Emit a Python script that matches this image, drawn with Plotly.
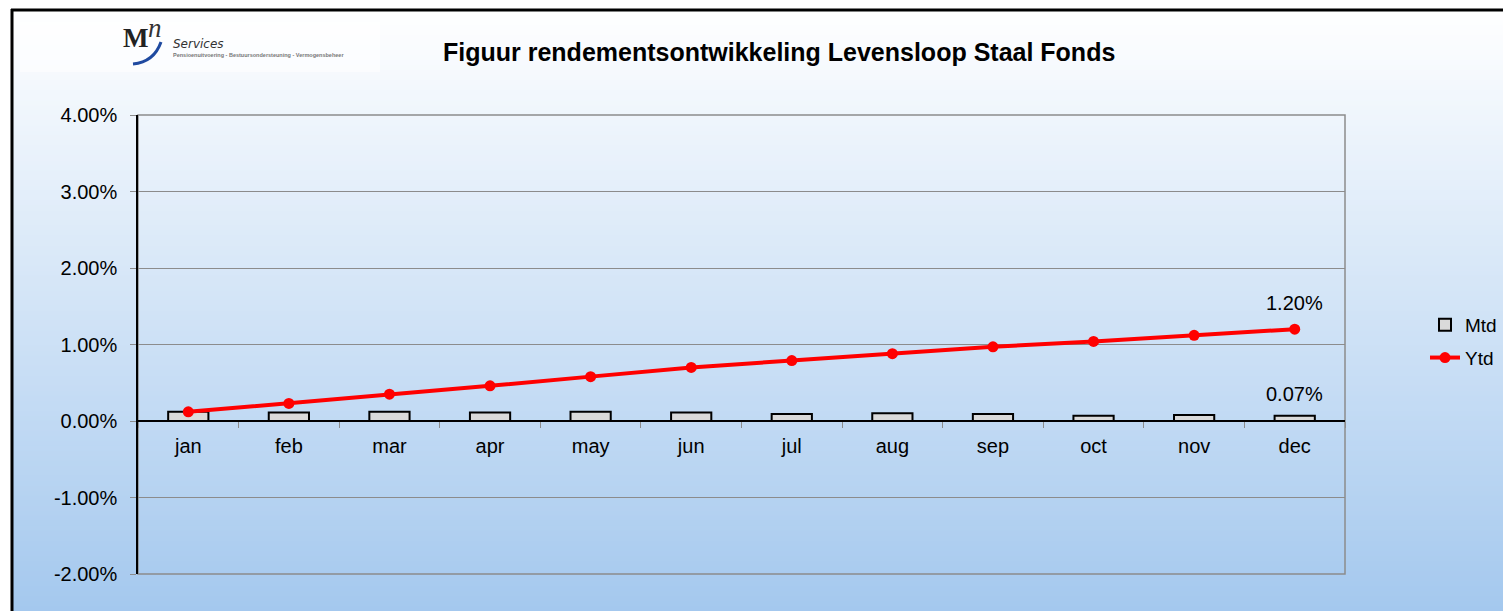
import plotly.graph_objects as go

months = ["jan", "feb", "mar", "apr", "may", "jun", "jul", "aug", "sep", "oct", "nov", "dec"]
mtd = [0.12, 0.11, 0.12, 0.11, 0.12, 0.11, 0.09, 0.10, 0.09, 0.07, 0.08, 0.07]
ytd = [0.12, 0.23, 0.35, 0.46, 0.58, 0.70, 0.79, 0.88, 0.97, 1.04, 1.12, 1.20]
y_ticks = [4, 3, 2, 1, 0, -1, -2]

OFF = 8  # page body margin
PAGE_W, PAGE_H = 1511, 611
W, H = PAGE_W, PAGE_H - OFF
PL, PR, PT, PB = 138, 1345, 115, 574  # plot area in page pixels
L, T = PL - OFF, PT - OFF
R, B = OFF + W - PR, PAGE_H - PB
PW, PH = PR - PL, PB - PT

def px(x):
    return (x - PL) / PW

def py(y):
    return (PB - y) / PH

FONT = "Arial, Liberation Sans, Helvetica, sans-serif"

fig = go.Figure()
fig.add_trace(go.Bar(
    x=months, y=mtd, name="Mtd", width=0.4, legendgroup="a",
    marker=dict(color="#dadada", line=dict(color="black", width=2)),
))
fig.add_trace(go.Scatter(
    x=months, y=ytd, name="Ytd", mode="lines+markers", legendgroup="b",
    line=dict(color="#ff0000", width=4),
    marker=dict(color="#ff0000", size=11),
))

shapes = []
# gradient background
top_px, bot_px = 10, PAGE_H
n = 120
c0 = (255, 255, 255)
c1 = (164, 200, 238)
for i in range(n):
    a = top_px + (bot_px - top_px) * i / n
    b = top_px + (bot_px - top_px) * (i + 1) / n + 1
    t = (i + 0.5) / n
    col = "rgb(%d,%d,%d)" % tuple(round(c0[k] + (c1[k] - c0[k]) * t) for k in range(3))
    shapes.append(dict(type="rect", xref="paper", yref="paper", layer="below",
                       x0=px(12), x1=px(PAGE_W + 5), y0=py(b), y1=py(a),
                       fillcolor=col, line=dict(width=0)))
# logo box
shapes.append(dict(type="rect", xref="paper", yref="paper", layer="below",
                   x0=px(20), x1=px(380), y0=py(72), y1=py(22),
                   fillcolor="rgba(255,255,255,0.5)", line=dict(width=0)))
# plot area border (gray)
shapes.append(dict(type="rect", xref="paper", yref="paper", layer="below",
                   x0=0, x1=1, y0=0, y1=1, line=dict(color="#8c8c8c", width=1.5)))
# outer black frame
shapes.append(dict(type="line", xref="paper", yref="paper",
                   x0=px(11), x1=px(PAGE_W + 5), y0=py(10), y1=py(10),
                   line=dict(color="black", width=3)))
shapes.append(dict(type="line", xref="paper", yref="paper",
                   x0=px(12), x1=px(12), y0=py(9), y1=py(PAGE_H + 5),
                   line=dict(color="black", width=3)))
# logo swoosh
x_a, y_a = px(133), py(64)
x_b, y_b = px(161), py(42)
x_c, y_c = px(154), py(62)
shapes.append(dict(type="path", xref="paper", yref="paper",
                   path=f"M {x_a},{y_a} Q {x_c},{y_c} {x_b},{y_b}",
                   line=dict(color="#1f4aa0", width=3)))

def ann(text, x, y, size, family=FONT, color="black", xanchor="center"):
    return dict(text=text, xref="paper", yref="paper", x=px(x), y=py(y),
                xanchor=xanchor, yanchor="middle", showarrow=False,
                font=dict(family=family, size=size, color=color))

SERIF = "Liberation Serif, DejaVu Serif, serif"
annotations = [
    ann("<b>Figuur rendementsontwikkeling Levensloop Staal Fonds</b>", 779, 52, 25),
    ann("<b>M</b>", 121, 38, 27, SERIF, "#222222", "left"),
    ann("<i>n</i>", 146, 28, 27, SERIF, "#333333", "left"),
    ann("<i>Services</i>", 171, 44, 12, "DejaVu Sans, sans-serif", "#333333", "left"),
    ann("<b>Pensioenuitvoering - Bestuursondersteuning - Vermogensbeheer</b>",
        171, 55, 5.5, FONT, "#777777", "left"),
    dict(text="%.2f%%" % ytd[-1], x=months[-1], y=ytd[-1], yshift=26,
         showarrow=False, font=dict(family=FONT, size=20, color="black")),
    dict(text="%.2f%%" % mtd[-1], x=months[-1], y=mtd[-1], yshift=22,
         showarrow=False, font=dict(family=FONT, size=20, color="black")),
]

ymin, ymax = -2, 4
fig.update_layout(
    width=W, height=H,
    margin=dict(l=L, r=R, t=T, b=B, pad=0),
    paper_bgcolor="white", plot_bgcolor="rgba(0,0,0,0)",
    font=dict(family=FONT, size=20, color="black"),
    bargap=0.6,
    showlegend=True,
    legend=dict(x=px(1425), y=py(306), xanchor="left", yanchor="top",
                bgcolor="rgba(0,0,0,0)", font=dict(size=19, family=FONT),
                itemwidth=30, tracegroupgap=5, traceorder="grouped"),
    xaxis=dict(
        type="category", anchor="free", position=(0 - ymin) / (ymax - ymin),
        showline=True, linecolor="black", linewidth=1.5,
        ticks="outside", tickson="boundaries", ticklen=6, tickcolor="#8c8c8c",
        ticklabelstandoff=7,
        showgrid=False, tickfont=dict(size=20), range=[-0.5, 11.5],
    ),
    yaxis=dict(
        range=[ymin, ymax], tickvals=y_ticks,
        ticktext=["%.2f%%" % v for v in y_ticks],
        showline=True, linecolor="black", linewidth=1.5,
        ticks="outside", ticklen=6, tickcolor="#8c8c8c",
        ticklabelstandoff=9,
        showgrid=True, gridcolor="#8c8c8c", gridwidth=1,
        zeroline=False, tickfont=dict(size=20),
    ),
    shapes=shapes,
    annotations=annotations,
)

fig.write_html("out.html")
